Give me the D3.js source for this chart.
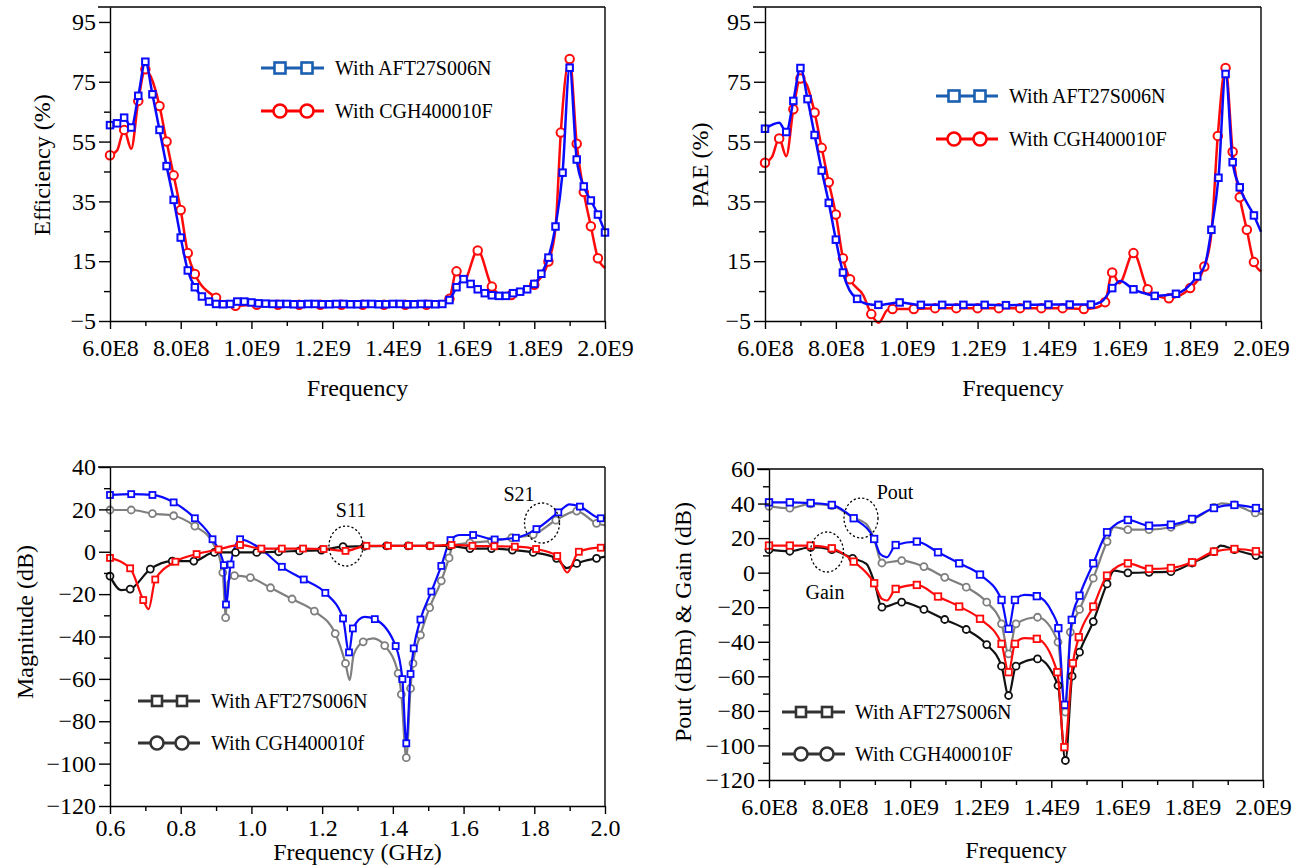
<!DOCTYPE html>
<html>
<head>
<meta charset="utf-8">
<script src="https://cdn.jsdelivr.net/npm/d3@7"></script>
<style>
  html, body { margin: 0; padding: 0; background: #fff; }
  svg { display: block; font-family: "Liberation Serif", "Times New Roman", serif; }
</style>
</head>
<body>
<svg id="fig" width="1309" height="866"></svg>
<script>
// ---------- shared axis definitions (frequency in GHz) ----------
const freqTicks = [0.6, 0.8, 1.0, 1.2, 1.4, 1.6, 1.8, 2.0];
const freqMinor = [0.7, 0.9, 1.1, 1.3, 1.5, 1.7, 1.9];
const hzLabels = ["6.0E8", "8.0E8", "1.0E9", "1.2E9", "1.4E9", "1.6E9", "1.8E9", "2.0E9"];
const ghzLabels = ["0.6", "0.8", "1.0", "1.2", "1.4", "1.6", "1.8", "2.0"];

const pctTicks = [-5, 15, 35, 55, 75, 95];
const pctMinor = [5, 25, 45, 65, 85];
const magTicks = [40, 20, 0, -20, -40, -60, -80, -100, -120];
const magMinor = [30, 10, -10, -30, -50, -70, -90, -110];
const poutTicks = [60, 40, 20, 0, -20, -40, -60, -80, -100, -120];
const poutMinor = [50, 30, 10, -10, -30, -50, -70, -90, -110];

// ---------- Drain efficiency (%) ----------
// [frequency GHz, value, symbol?]  (third entry 0 = curve point without symbol)
const effAft = [
  [0.60,60.5],[0.62,61.1],[0.64,63.0],[0.66,59.7],[0.68,70.3],[0.70,81.7],[0.72,70.8],[0.74,58.9],
  [0.76,46.8],[0.78,35.5],[0.80,22.9],[0.82,11.9],[0.84,6.3],[0.86,3.2],[0.88,1.5],[0.90,0.7],
  [0.92,0.6],[0.94,0.7],[0.96,1.5],[0.98,1.5],[1.00,1.2],[1.02,0.9],[1.04,0.8],[1.06,0.7],
  [1.08,0.7],[1.10,0.7],[1.12,0.6],[1.14,0.6],[1.16,0.7],[1.18,0.7],[1.20,0.6],[1.22,0.6],
  [1.24,0.7],[1.26,0.7],[1.28,0.6],[1.30,0.6],[1.32,0.7],[1.34,0.7],[1.36,0.6],[1.38,0.6],
  [1.40,0.7],[1.42,0.7],[1.44,0.6],[1.46,0.6],[1.48,0.7],[1.50,0.7],[1.52,0.6],[1.54,0.7],
  [1.56,2.0],[1.58,6.3],[1.60,9.0],[1.62,7.4],[1.64,5.6],[1.66,4.3],[1.68,3.6],[1.70,3.4],
  [1.72,3.4],[1.74,4.3],[1.76,4.8],[1.78,5.6],[1.80,7.4],[1.82,10.8],[1.84,16.2],[1.86,26.6],
  [1.88,44.6],[1.90,79.7],[1.92,49.0],[1.94,40.0],[1.96,35.3],[1.98,30.6],[2.00,24.6]
];
const effCgh = [
  [0.60,50.4],[0.62,52.0,0],[0.64,58.9],[0.66,52.6,0],[0.68,68.6],[0.70,79.2],[0.715,76.8,0],
  [0.74,66.9],[0.76,55.0],[0.78,43.7],[0.80,32.1],[0.82,17.7],[0.84,10.7],[0.90,2.8],[0.955,0.1],
  [1.015,0.4],[1.075,0.4],[1.135,0.4],[1.195,0.4],[1.255,0.4],[1.315,0.4],[1.375,0.4],[1.435,0.4],
  [1.495,0.4],[1.54,0.6,0],[1.56,2.4],[1.58,11.6],[1.60,8.2,0],[1.64,18.6],[1.68,6.5],[1.705,4.0,0],
  [1.735,3.7],[1.77,4.8,0],[1.80,7.1],[1.84,14.9],[1.86,26.1,0],[1.875,58.0],[1.90,82.6],[1.92,54.3],
  [1.94,38.1],[1.96,26.7],[1.98,16.0],[2.00,12.7,0]
];

// ---------- Power added efficiency (%) ----------
const paeAft = [
  [0.60,59.3],[0.64,61.3,0],[0.66,58.2],[0.68,68.6],[0.70,79.6],[0.72,69.2],[0.74,57.2],[0.76,45.3],
  [0.78,34.5],[0.80,22.2],[0.82,11.2],[0.838,5.4,0],[0.86,2.4],[0.888,0.7,0],[0.92,0.4],[0.98,1.2],
  [1.04,0.4],[1.10,0.4],[1.16,0.4],[1.22,0.4],[1.28,0.3],[1.34,0.4],[1.40,0.5],[1.46,0.5],[1.52,0.5],
  [1.55,1.5,0],[1.58,6.0],[1.603,8.4,0],[1.64,5.6],[1.676,4.1,0],[1.70,3.4],[1.76,4.1],[1.82,9.9],
  [1.842,13.8,0],[1.86,25.5],[1.88,42.9],[1.90,77.6],[1.92,48.1],[1.94,39.7],[1.98,30.3],[2.00,24.8,0]
];
const paeCgh = [
  [0.60,47.9],[0.62,49.9,0],[0.64,56.0],[0.66,50.1,0],[0.68,65.8],[0.70,76.1],[0.717,74.2,0],[0.74,64.7],
  [0.76,52.9],[0.78,41.4],[0.80,30.6],[0.82,16.0],[0.84,9.0],[0.877,3.7,0],[0.90,-2.7],[0.921,-5.6,0],
  [0.946,-1.3,0],[0.96,-1.0],[1.02,-1.0],[1.08,-0.7],[1.14,-0.7],[1.20,-0.7],[1.26,-0.7],[1.32,-0.7],
  [1.38,-0.7],[1.44,-0.7],[1.50,-1.0],[1.53,-0.7,0],[1.56,1.3],[1.58,11.2],[1.60,7.6,0],[1.64,17.7],
  [1.68,5.6],[1.705,3.4,0],[1.74,2.6],[1.80,6.0],[1.84,13.2],[1.86,24.4,0],[1.878,56.9],[1.90,79.6],
  [1.92,51.6],[1.94,36.4],[1.96,25.5],[1.98,14.7],[2.00,11.6,0]
];

// ---------- S-parameters (dB) ----------
const s21Aft = [
  [0.60,26.8],[0.66,27.2],[0.72,26.8],[0.78,23.3],[0.84,15.8],[0.89,5.9],[0.922,-6.3],[0.928,-24.9],
  [0.941,-6.0],[0.968,5.9],[1.028,1.1],[1.086,-7.1],[1.148,-13.1],[1.209,-19.4],[1.259,-31.5],
  [1.276,-47.5],[1.287,-36.2],[1.32,-30.7,0],[1.349,-31.8],[1.408,-44.5],[1.427,-60.1],[1.438,-90.4],
  [1.45,-57.7],[1.459,-45.6],[1.478,-32.0],[1.509,-18.8],[1.537,-6.7],[1.563,5.5],[1.59,7.9,0],
  [1.627,7.9],[1.688,5.8],[1.748,6.6],[1.806,10.7],[1.868,18.6],[1.90,22.4,0],[1.929,21.3],[1.988,15.8],
  [2.00,15.8,0]
];
const s21Cgh = [
  [0.60,19.7],[0.66,19.7],[0.72,18.0],[0.78,17.0],[0.84,12.1],[0.89,4.4,0],[0.919,-9.8],[0.927,-31.1],
  [0.933,-14.2,0],[0.952,-11.3],[0.997,-12.2],[1.054,-17.0],[1.115,-22.3],[1.178,-28.0],[1.237,-38.6],
  [1.266,-52.7],[1.278,-60.6,0],[1.289,-48.7,0],[1.316,-42.5],[1.344,-40.9,0],[1.377,-44.3],[1.415,-57.4],
  [1.424,-67.3],[1.438,-97.2],[1.45,-64.5],[1.457,-52.7],[1.478,-39.3],[1.504,-26.4],[1.537,-13.7],
  [1.559,-2.9],[1.569,2.8,0],[1.618,4.2],[1.679,5.1],[1.736,6.6],[1.797,8.1],[1.861,14.9],[1.92,19.2],
  [1.976,13.4],[2.00,12.5,0]
];
const s11Aft = [
  [0.60,-2.9],[0.657,-7.8],[0.694,-22.8],[0.709,-27.1,0],[0.728,-13.1],[0.785,-4.7],[0.845,-1.1],
  [0.907,1.1],[0.968,3.2],[1.028,1.5],[1.086,1.5],[1.146,1.5],[1.204,1.3],[1.266,0.4],[1.325,2.8],
  [1.386,2.8],[1.446,2.8],[1.506,2.8],[1.566,3.2],[1.625,2.8],[1.687,2.6],[1.745,2.4],[1.805,1.3],
  [1.865,-2.0],[1.893,-9.8,0],[1.926,0.0],[1.988,1.9],[2.00,1.9,0]
];
const s11Cgh = [
  [0.60,-11.5],[0.631,-18.1,0],[0.657,-17.6],[0.714,-8.2],[0.776,-4.4],[0.837,-4.4],[0.895,-0.3],
  [0.955,-0.3],[1.015,-0.3],[1.077,0.0],[1.136,0.4],[1.198,0.8],[1.259,2.4],[1.32,2.6],[1.382,2.8],
  [1.443,2.8],[1.504,2.8],[1.561,2.8],[1.618,1.5],[1.679,1.5],[1.738,0.8],[1.797,-0.3],[1.863,-3.1],
  [1.892,-7.7,0],[1.92,-5.5],[1.976,-3.1],[2.00,-2.3,0]
];

// ---------- Output power (dBm) and gain (dB) ----------
const poutAft = [
  [0.60,40.7],[0.659,40.7],[0.718,40.3],[0.778,39.2],[0.84,31.5],[0.898,19.5],[0.915,10.8,0],[0.934,8.9,0],
  [0.959,16.0],[1.019,18.0],[1.079,11.8],[1.139,5.4],[1.198,-1.1],[1.259,-15.8],[1.279,-32.5],[1.297,-15.8],
  [1.324,-12.9,0],[1.359,-13.6],[1.402,-22.9,0],[1.42,-32.1],[1.438,-76.5],[1.458,-27.3],[1.48,-13.3],
  [1.519,5.4],[1.558,23.4],[1.578,27.2,0],[1.617,30.5],[1.677,27.2],[1.739,27.8],[1.799,31.1],[1.861,37.4],
  [1.919,39.2],[1.98,37.4],[2.00,36.5,0]
];
const poutCgh = [
  [0.60,38.4],[0.659,37.3],[0.718,39.8],[0.778,38.8],[0.837,32.0,0],[0.876,28.2,0],[0.898,19.5,0],
  [0.92,5.6],[0.976,7.0],[1.039,3.5],[1.098,-2.7],[1.159,-8.4],[1.217,-17.1],[1.259,-29.6],[1.279,-47.0],
  [1.30,-29.6],[1.361,-25.8],[1.419,-40.2],[1.44,-80.7],[1.454,-34.4],[1.48,-21.3],[1.519,-3.2],[1.558,18.0],
  [1.578,26.3,0],[1.617,24.9],[1.677,24.9],[1.739,26.3],[1.799,30.5],[1.861,37.8],[1.882,40.1,0],[1.919,39.2],
  [1.978,34.6],[2.00,34.0,0]
];
const gainAft = [
  [0.60,15.7],[0.659,15.7],[0.718,15.7],[0.778,14.1],[0.84,6.4],[0.898,-6.1],[0.92,-15.2,0],[0.934,-16.1,0],
  [0.959,-9.4],[1.019,-7.1],[1.079,-13.8],[1.139,-19.6],[1.198,-26.7],[1.259,-41.2],[1.279,-57.6],[1.297,-41.2],
  [1.324,-37.9,0],[1.359,-38.3],[1.417,-57.6],[1.437,-101.0],[1.461,-52.4],[1.478,-37.3],[1.519,-19.6],
  [1.558,-1.7],[1.617,5.4],[1.677,2.2],[1.739,2.7],[1.799,6.0],[1.861,12.2],[1.919,13.7],[1.98,12.4],
  [2.00,11.4,0]
];
const gainCgh = [
  [0.60,13.3],[0.659,12.4],[0.718,14.7],[0.778,13.3],[0.837,8.3],[0.876,5.1,0],[0.90,-6.5,0],[0.92,-20.0],
  [0.976,-17.1],[1.039,-21.3],[1.098,-27.1],[1.159,-32.9],[1.217,-41.6],[1.259,-54.1],[1.279,-71.1],
  [1.30,-54.1],[1.361,-49.9],[1.419,-65.3],[1.44,-108.7],[1.459,-59.9],[1.48,-46.0],[1.519,-28.3],
  [1.558,-6.5],[1.578,1.2,0],[1.617,-0.1],[1.677,0.2],[1.739,0.6],[1.799,5.6],[1.861,12.2],[1.88,15.7,0],
  [1.919,13.3],[1.98,9.9],[2.00,8.9,0]
];

const legendNames = ["With AFT27S006N", "With CGH400010F"];
const legendNamesS = ["With AFT27S006N", "With CGH400010f"];

// ---------- drawing ----------
const svg = d3.select("#fig");
const BLUE = "#0a0aff", RED = "#ff0a0a", GRAY = "#7f7f7f", BLACK = "#111";
const SERIF = "Liberation Serif, Times New Roman, serif";

function marker(g, shape, cx, cy, size, color, sw) {
  if (shape === "square") {
    g.append("rect").attr("x", cx - size / 2).attr("y", cy - size / 2)
      .attr("width", size).attr("height", size)
      .attr("fill", "#fff").attr("stroke", color).attr("stroke-width", sw);
  } else {
    g.append("circle").attr("cx", cx).attr("cy", cy).attr("r", size / 2)
      .attr("fill", "#fff").attr("stroke", color).attr("stroke-width", sw);
  }
}

function panel(p) {
  const x = d3.scaleLinear().domain([0.6, 2.0]).range([p.x0, p.x1]);
  const y = d3.scaleLinear().domain(p.yDomain).range([p.yBot, p.yTop]);
  const g = svg.append("g");

  // data curves, then their symbols
  p.series.forEach(s => {
    const line = d3.line().x(d => x(d[0])).y(d => y(d[1])).curve(d3.curveMonotoneX);
    g.append("path").attr("d", line(s.data)).attr("fill", "none")
      .attr("stroke", s.color).attr("stroke-width", s.lw).attr("stroke-linejoin", "round");
    const mg = g.append("g");
    s.data.filter(d => d[2] !== 0).forEach(d =>
      marker(mg, s.shape, x(d[0]), y(d[1]), s.size, s.color, s.msw));
  });

  // frame: top line (runs past the left axis like a tick) and right line
  g.append("line").attr("x1", p.x0 - 12).attr("x2", p.x1).attr("y1", p.yTop).attr("y2", p.yTop)
    .attr("stroke", "#000").attr("stroke-width", 1.4);
  g.append("line").attr("x1", p.x1).attr("x2", p.x1).attr("y1", p.yTop).attr("y2", p.yBot)
    .attr("stroke", "#000").attr("stroke-width", 1.4);

  // bottom axis
  const xb = g.append("g").attr("transform", `translate(0,${p.yBot})`)
    .call(d3.axisBottom(x).tickValues(freqTicks).tickSizeInner(8).tickSizeOuter(0)
      .tickPadding(p.xPad).tickFormat((d, i) => p.xLabels[i]));
  g.append("g").attr("transform", `translate(0,${p.yBot})`)
    .call(d3.axisBottom(x).tickValues(freqMinor).tickSizeInner(5).tickSizeOuter(0).tickFormat(""))
    .select(".domain").remove();

  // left axis
  const yl = g.append("g").attr("transform", `translate(${p.x0},0)`)
    .call(d3.axisLeft(y).tickValues(p.yTicks).tickSizeInner(11).tickSizeOuter(0)
      .tickPadding(3).tickFormat(d3.format("d")));
  g.append("g").attr("transform", `translate(${p.x0},0)`)
    .call(d3.axisLeft(y).tickValues(p.yMinor).tickSizeInner(6).tickSizeOuter(0).tickFormat(""))
    .select(".domain").remove();

  g.selectAll(".domain, .tick line").attr("stroke", "#000").attr("stroke-width", 1.4);
  [xb, yl].forEach(a => a.selectAll("text")
    .attr("font-family", SERIF).attr("font-size", 24).attr("fill", "#000"));
  xb.selectAll("text").attr("dy", "0.71em");

  // axis titles
  g.append("text").attr("x", (p.x0 + p.x1) / 2).attr("y", p.xTitleY)
    .attr("text-anchor", "middle").attr("font-size", 24).text(p.xTitle);
  g.append("text").attr("transform", `translate(${p.yTitleX},${p.yTitleCY}) rotate(-90)`)
    .attr("text-anchor", "middle").attr("dominant-baseline", "central")
    .attr("font-size", 24).text(p.yTitle);

  // legend
  const L = p.legend;
  L.rows.forEach((r, i) => {
    const ly = L.y[i];
    g.append("line").attr("x1", L.xa).attr("x2", L.xb).attr("y1", ly).attr("y2", ly)
      .attr("stroke", r.color).attr("stroke-width", 3);
    L.mx.forEach(mx => marker(g, r.shape, mx, ly, r.size, r.color, 2.6));
    g.append("text").attr("x", L.tx).attr("y", ly).attr("dominant-baseline", "central")
      .attr("font-size", 20).attr("fill", "#000").text(r.name);
  });

  // annotations: label + dashed ellipse
  (p.notes || []).forEach(n => {
    g.append("ellipse").attr("cx", n.cx).attr("cy", n.cy).attr("rx", n.rx).attr("ry", n.ry)
      .attr("fill", "none").attr("stroke", "#000").attr("stroke-width", 1.3)
      .attr("stroke-dasharray", "2.2,2.2");
    g.append("text").attr("x", n.tx).attr("y", n.ty).attr("text-anchor", "middle")
      .attr("dominant-baseline", "central").attr("font-size", 20).text(n.text);
  });
}

const LEG_BLUE = "#1a5fb0";

// Efficiency
panel({
  x0: 110, x1: 605, yTop: 7, yBot: 321, yDomain: [-5, 100], xPad: 10,
  yTicks: pctTicks, yMinor: pctMinor, xLabels: hzLabels,
  xTitle: "Frequency", xTitleY: 396, yTitle: "Efficiency (%)", yTitleX: 42, yTitleCY: 165,
  series: [
    { data: effCgh, color: RED, shape: "circle", size: 8.5, lw: 2.5, msw: 2 },
    { data: effAft, color: BLUE, shape: "square", size: 6.5, lw: 2.5, msw: 2 }
  ],
  legend: { xa: 261, xb: 324, mx: [280, 307], tx: 335, y: [68, 111],
    rows: [{ name: legendNames[0], color: LEG_BLUE, shape: "square", size: 11 },
           { name: legendNames[1], color: "#ff0000", shape: "circle", size: 13 }] }
});

// PAE
panel({
  x0: 765, x1: 1261, yTop: 7, yBot: 321, yDomain: [-5, 100], xPad: 10,
  yTicks: pctTicks, yMinor: pctMinor, xLabels: hzLabels,
  xTitle: "Frequency", xTitleY: 396, yTitle: "PAE (%)", yTitleX: 700, yTitleCY: 165,
  series: [
    { data: paeCgh, color: RED, shape: "circle", size: 8.5, lw: 2.5, msw: 2 },
    { data: paeAft, color: BLUE, shape: "square", size: 6.5, lw: 2.5, msw: 2 }
  ],
  legend: { xa: 936, xb: 998, mx: [954, 980], tx: 1009, y: [96, 139],
    rows: [{ name: legendNames[0], color: LEG_BLUE, shape: "square", size: 11 },
           { name: legendNames[1], color: "#ff0000", shape: "circle", size: 13 }] }
});

// S-parameters
panel({
  x0: 110, x1: 605, yTop: 467, yBot: 806, yDomain: [-120, 40], xPad: 5,
  yTicks: magTicks, yMinor: magMinor, xLabels: ghzLabels,
  xTitle: "Frequency (GHz)", xTitleY: 860, yTitle: "Magnitude (dB)", yTitleX: 25, yTitleCY: 622,
  series: [
    { data: s21Cgh, color: GRAY, shape: "circle", size: 7, lw: 2.2, msw: 1.8 },
    { data: s21Aft, color: BLUE, shape: "square", size: 6, lw: 2.2, msw: 1.8 },
    { data: s11Cgh, color: BLACK, shape: "circle", size: 7, lw: 2.2, msw: 1.8 },
    { data: s11Aft, color: RED, shape: "square", size: 6, lw: 2.2, msw: 1.8 }
  ],
  legend: { xa: 138, xb: 200, mx: [157, 182], tx: 211, y: [701, 743],
    rows: [{ name: legendNamesS[0], color: "#333", shape: "square", size: 10 },
           { name: legendNamesS[1], color: "#333", shape: "circle", size: 13 }] },
  notes: [
    { text: "S11", tx: 351, ty: 510, cx: 346, cy: 546, rx: 17, ry: 20 },
    { text: "S21", tx: 519, ty: 494, cx: 542, cy: 523, rx: 17.5, ry: 20 }
  ]
});

// Output power and gain
panel({
  x0: 769, x1: 1263, yTop: 469, yBot: 780, yDomain: [-120, 60], xPad: 10,
  yTicks: poutTicks, yMinor: poutMinor, xLabels: hzLabels,
  xTitle: "Frequency", xTitleY: 858, yTitle: "Pout (dBm) & Gain (dB)", yTitleX: 683, yTitleCY: 622,
  series: [
    { data: poutCgh, color: GRAY, shape: "circle", size: 7, lw: 2.2, msw: 1.8 },
    { data: poutAft, color: BLUE, shape: "square", size: 6.5, lw: 2.2, msw: 1.8 },
    { data: gainCgh, color: BLACK, shape: "circle", size: 7, lw: 2.2, msw: 1.8 },
    { data: gainAft, color: RED, shape: "square", size: 6.5, lw: 2.2, msw: 1.8 }
  ],
  legend: { xa: 782, xb: 845, mx: [801, 827], tx: 855, y: [712, 754],
    rows: [{ name: legendNames[0], color: "#333", shape: "square", size: 10 },
           { name: legendNames[1], color: "#333", shape: "circle", size: 13 }] },
  notes: [
    { text: "Pout", tx: 895, ty: 492, cx: 861, cy: 518, rx: 17, ry: 20 },
    { text: "Gain", tx: 825, ty: 592, cx: 827, cy: 552, rx: 16.5, ry: 20 }
  ]
});
</script>
</body>
</html>
